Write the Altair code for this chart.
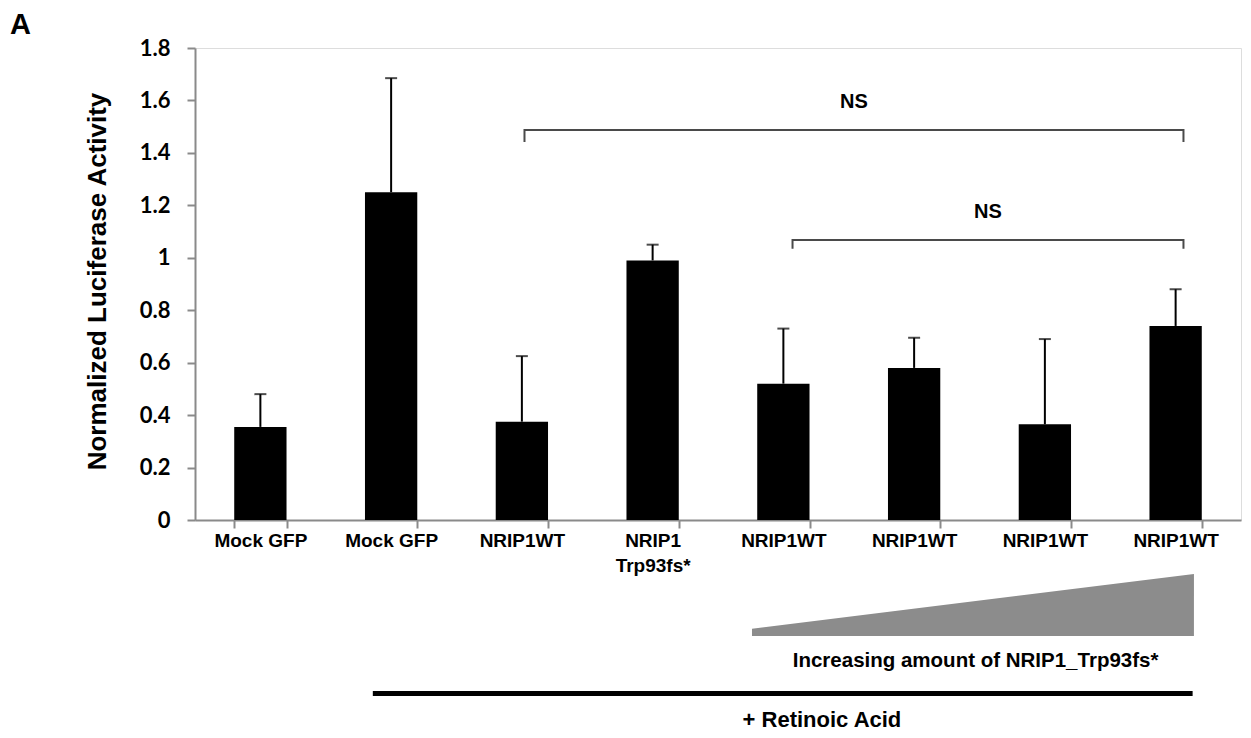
import json
import altair as alt
import pandas as pd

# ---- data ----
labels = [["Mock GFP"], ["Mock GFP"], ["NRIP1WT"], ["NRIP1", "Trp93fs*"],
          ["NRIP1WT"], ["NRIP1WT"], ["NRIP1WT"], ["NRIP1WT"]]
means = [0.355, 1.25, 0.375, 0.99, 0.52, 0.58, 0.365, 0.74]
err_top = [0.48, 1.685, 0.625, 1.05, 0.73, 0.695, 0.69, 0.88]
y_ticks = [0, 0.2, 0.4, 0.6, 0.8, 1, 1.2, 1.4, 1.6, 1.8]

# significance brackets (x in category units: category i spans [i, i+1])
bracket_x1 = [2.52, 4.57]
bracket_x2 = [7.56, 7.56]
bracket_top = [1.487, 1.068]
bracket_leg = [1.442, 1.034]
bracket_text = ["NS", "NS"]
bracket_text_y = [1.594, 1.175]

# increasing-amount wedge below the axis
wedge_x = [4.26, 7.64]
wedge_top = [-0.415, -0.206]
wedge_bottom = [-0.442, -0.442]
wedge_text = "Increasing amount of NRIP1_Trp93fs*"
wedge_text_x = 5.97
wedge_text_y = -0.538

# retinoic acid bar
ra_x = [1.36, 7.63]
ra_y = -0.662
ra_text = "+ Retinoic Acid"
ra_text_x = 4.795
ra_text_y = -0.762

# panel letter
panel_text = "A"
panel_x = -1.415
panel_y = 1.8877

# ---- tables ----
df = pd.DataFrame({"idx": list(range(len(means))), "mean": means, "err": err_top})

br_rows = []
for g in range(len(bracket_x1)):
    pts = [(bracket_x1[g], bracket_leg[g]), (bracket_x1[g], bracket_top[g]),
           (bracket_x2[g], bracket_top[g]), (bracket_x2[g], bracket_leg[g])]
    for o, (xx, yy) in enumerate(pts):
        br_rows.append({"g": g, "o": o, "x": xx, "y": yy})
br_df = pd.DataFrame(br_rows)
ns_df = pd.DataFrame({"x": [(a + b) / 2 for a, b in zip(bracket_x1, bracket_x2)],
                      "y": bracket_text_y, "t": bracket_text})
wedge_df = pd.DataFrame({"x": wedge_x, "top": wedge_top, "bottom": wedge_bottom})
ra_df = pd.DataFrame({"x": [ra_x[0]], "x2": [ra_x[1]], "y": [ra_y]})
txt_df = pd.DataFrame({"x": [wedge_text_x, ra_text_x], "y": [wedge_text_y, ra_text_y],
                       "t": [wedge_text, ra_text], "s": [20.5, 22]})
panel_df = pd.DataFrame({"x": [panel_x], "y": [panel_y], "t": [panel_text]})

# ---- scales / axes ----
W, H = 1046, 472
AX = "#8a8a8a"
xband = alt.Scale(type="band", paddingInner=0.6, paddingOuter=0.3)
ylin = alt.Scale(domain=[0, 1.8], nice=False, zero=False)
xq = alt.Scale(domain=[0, 8], nice=False, zero=False)

x_axis = alt.Axis(title=None, labelExpr=json.dumps(labels) + "[datum.value]",
                  tickBand="extent", labelAngle=0, labelOverlap=False,
                  domainColor=AX, domainWidth=2, tickColor=AX, tickWidth=2, tickSize=8,
                  labelFont="Liberation Sans", labelFontSize=19, labelFontWeight="bold",
                  labelColor="black", labelPadding=3, labelLineHeight=25)
y_axis = alt.Axis(values=y_ticks, format="~g", grid=False,
                  title="Normalized Luciferase Activity", titleFont="Liberation Sans",
                  titleFontSize=26, titleFontWeight="bold", titleColor="black",
                  titleX=-98, titleY=233, titleBaseline="middle",
                  labelFont="Lato", labelFontSize=22, labelFontWeight="bold",
                  labelColor="black", labelPadding=17, tickSize=8,
                  domainColor=AX, domainWidth=2, tickColor=AX, tickWidth=2)

X = alt.X("idx:O", scale=xband, axis=x_axis)
Y = alt.Y("mean:Q", scale=ylin, axis=y_axis)

bars = alt.Chart(df).mark_bar(color="black").encode(x=X, y=Y)
err_line = alt.Chart(df).mark_rule(color="black", strokeWidth=2).encode(
    x=X, y=alt.Y("mean:Q", scale=ylin, axis=y_axis), y2="err:Q")
err_cap = alt.Chart(df).mark_tick(color="black", size=12, thickness=2, orient="horizontal").encode(
    x=X, y=alt.Y("err:Q", scale=ylin, axis=y_axis))
main = alt.layer(bars, err_line, err_cap)

QX = lambda f: alt.X(f, scale=xq, axis=None)
QY = lambda f: alt.Y(f, scale=ylin, axis=None)

brackets = alt.Chart(br_df).mark_line(color="#4a4a4a", strokeWidth=2, clip=False).encode(
    x=QX("x:Q"), y=QY("y:Q"), detail="g:N", order="o:O")
ns = alt.Chart(ns_df).mark_text(font="Liberation Sans", fontSize=20, fontWeight="bold",
                                color="black", baseline="middle", clip=False).encode(
    x=QX("x:Q"), y=QY("y:Q"), text="t:N")
wedge = alt.Chart(wedge_df).mark_area(color="#8c8c8c", clip=False).encode(
    x=QX("x:Q"), y=QY("top:Q"), y2="bottom:Q")
ra_rule = alt.Chart(ra_df).mark_rule(color="black", strokeWidth=5, clip=False).encode(
    x=QX("x:Q"), x2="x2:Q", y=QY("y:Q"))
txt = alt.Chart(txt_df).mark_text(font="Liberation Sans", fontWeight="bold", color="black",
                                  baseline="middle", clip=False).encode(
    x=QX("x:Q"), y=QY("y:Q"), text="t:N", size=alt.Size("s:Q", scale=None, legend=None))
panel = alt.Chart(panel_df).mark_text(font="Liberation Sans", fontSize=29, fontWeight="bold",
                                      color="black", align="left", baseline="middle",
                                      clip=False).encode(
    x=QX("x:Q"), y=QY("y:Q"), text="t:N")
annot = alt.layer(brackets, ns, wedge, ra_rule, txt, panel)

chart = alt.layer(main, annot).resolve_scale(x="independent", y="independent").properties(
    width=W, height=H,
    autosize=alt.AutoSizeParams(type="none"),
    padding={"left": 187, "top": 40, "right": 2, "bottom": 218},
).configure_view(stroke=None).configure(background="white")

chart.save("out.html", embed_options={"renderer": "svg", "actions": False})
